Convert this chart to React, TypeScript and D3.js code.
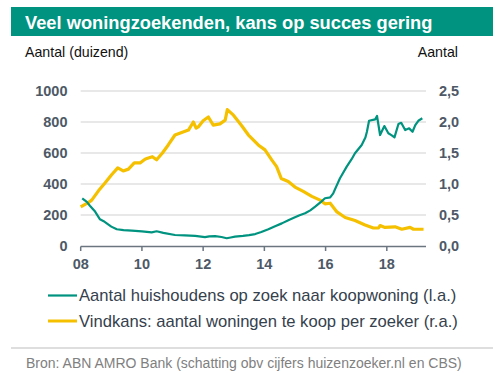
import React from "react";
import * as d3 from "d3";

const W = 503;
const H = 378;

const titleText = "Veel woningzoekenden, kans op succes gering";
const leftAxisTitle = "Aantal (duizend)";
const rightAxisTitle = "Aantal";
const sourceText = "Bron: ABN AMRO Bank (schatting obv cijfers huizenzoeker.nl en CBS)";
const seriesNames = [
  "Aantal huishoudens op zoek naar koopwoning (l.a.)",
  "Vindkans: aantal woningen te koop per zoeker (r.a.)",
];

const xTicks = [2008, 2010, 2012, 2014, 2016, 2018];
const xTickLabels = ["08", "10", "12", "14", "16", "18"];
const leftTicks = [0, 200, 400, 600, 800, 1000];
const rightTicks = [0, 0.5, 1, 1.5, 2, 2.5];

const searchersDates = [
  2008.05, 2008.2, 2008.3, 2008.47, 2008.63, 2008.75, 2008.85, 2009.0, 2009.18, 2009.4,
  2009.67, 2010.0, 2010.32, 2010.48, 2010.7, 2011.08, 2011.4, 2011.74, 2012.06, 2012.2,
  2012.39, 2012.6, 2012.77, 2012.9, 2013.04, 2013.3, 2013.5, 2013.7, 2013.9, 2014.13,
  2014.35, 2014.57, 2014.8, 2015.0, 2015.15, 2015.33, 2015.5, 2015.66, 2015.85, 2015.98,
  2016.1, 2016.15, 2016.25, 2016.35, 2016.47, 2016.69, 2016.85, 2016.96, 2017.18, 2017.3,
  2017.35, 2017.42, 2017.62, 2017.68, 2017.78, 2017.92, 2018.05, 2018.15, 2018.25, 2018.38,
  2018.47, 2018.6, 2018.73, 2018.84, 2018.93, 2019.03, 2019.16,
];
const searchersValues = [
  308, 285, 260, 222, 172, 160, 146, 125, 108, 102,
  99, 94, 88, 95, 85, 71, 68, 65, 57, 62,
  64, 58, 50, 55, 60, 65, 70, 77, 90, 108,
  128, 146, 168, 185, 198, 211, 230, 254, 285, 308,
  312, 314, 340, 385, 437, 512, 560, 598, 652, 700,
  737, 808, 817, 839, 716, 774, 727, 715, 701, 787,
  795, 748, 759, 737, 780, 808, 824,
];

const chanceDates = [
  2008.0, 2008.1, 2008.25, 2008.36, 2008.58, 2008.8, 2009.01, 2009.21, 2009.39, 2009.56,
  2009.75, 2009.94, 2010.1, 2010.16, 2010.34, 2010.48, 2010.67, 2010.86, 2011.08, 2011.3,
  2011.52, 2011.68, 2011.77, 2011.84, 2012.0, 2012.17, 2012.33, 2012.55, 2012.72, 2012.79,
  2012.99, 2013.26, 2013.48, 2013.8, 2014.02, 2014.24, 2014.4, 2014.55, 2014.78, 2015.0,
  2015.27, 2015.55, 2015.82, 2015.98, 2016.15, 2016.37, 2016.64, 2016.96, 2017.29, 2017.56,
  2017.73, 2017.78, 2017.94, 2018.27, 2018.49, 2018.76, 2018.87, 2019.2,
];
const chanceValues = [
  0.63, 0.66, 0.7, 0.74, 0.89, 1.02, 1.15, 1.26, 1.21, 1.24,
  1.34, 1.34, 1.4, 1.41, 1.44, 1.39, 1.5, 1.63, 1.79, 1.83,
  1.87, 2.0, 1.9, 1.92, 2.02, 2.08, 1.95, 1.97, 2.03, 2.2,
  2.11, 1.94, 1.79, 1.63, 1.55, 1.39, 1.28, 1.09, 1.04, 0.95,
  0.88, 0.8, 0.74, 0.68, 0.69, 0.55, 0.46, 0.41, 0.34, 0.29,
  0.29, 0.33, 0.3, 0.31, 0.27, 0.3, 0.27, 0.27,
];

const TEAL = "#00937f";
const YELLOW = "#f5c000";
const TICK_COLOR = "#4d5966";
const FONT = "'Liberation Sans', Arial, sans-serif";

export default function App() {
  const x = d3.scaleLinear().domain([2008, 2019.28]).range([80.7, 426]);
  const yL = d3.scaleLinear().domain([0, 1000]).range([246, 91]);
  const yR = d3.scaleLinear().domain([0, 2.5]).range([246, 91]);

  const searchers = searchersDates.map((d, i) => [d, searchersValues[i]] as [number, number]);
  const chance = chanceDates.map((d, i) => [d, chanceValues[i]] as [number, number]);

  const lineL = d3.line<[number, number]>().x((d) => x(d[0])).y((d) => yL(d[1]));
  const lineR = d3.line<[number, number]>().x((d) => x(d[0])).y((d) => yR(d[1]));

  return (
    <svg
      width={W}
      height={H}
      style={{ position: "absolute", left: 0, top: 0, background: "#fff" }}
      fontFamily={FONT}
    >
      <rect x={0} y={0} width={W} height={H} fill="#fff" />
      {/* title bar */}
      <rect x={11} y={7} width={482} height={29} fill={TEAL} />
      <text x={25} y={29} fill="#fff" fontSize={18.3} fontWeight="bold">
        {titleText}
      </text>
      <text x={25} y={56.5} fill="#111" fontSize={14.2}>
        {leftAxisTitle}
      </text>
      <text x={458} y={56.5} fill="#111" fontSize={14.2} textAnchor="end">
        {rightAxisTitle}
      </text>

      {/* grid */}
      {leftTicks
        .filter((t) => t > 0)
        .map((t) => (
          <line key={t} x1={80.7} x2={426} y1={yL(t)} y2={yL(t)} stroke="#e1e1e1" strokeWidth={1.5} />
        ))}

      {/* left ticks */}
      {leftTicks.map((t) => (
        <text
          key={t}
          x={67.5}
          y={yL(t) + 5}
          fontSize={14.5}
          fontWeight="bold"
          fill={TICK_COLOR}
          textAnchor="end"
        >
          {t}
        </text>
      ))}
      {/* right ticks */}
      {rightTicks.map((t) => (
        <text key={t} x={439} y={yR(t) + 5} fontSize={14.5} fontWeight="bold" fill={TICK_COLOR}>
          {t.toFixed(1).replace(".", ",")}
        </text>
      ))}

      {/* x axis */}
      <line x1={80.7} x2={426} y1={246.5} y2={246.5} stroke="#6b7580" strokeWidth={1.5} />
      {xTicks.map((t, i) => (
        <g key={t}>
          <line x1={x(t)} x2={x(t)} y1={246.5} y2={251} stroke="#6b7580" strokeWidth={1.5} />
          <text x={x(t)} y={269} fontSize={14.5} fontWeight="bold" fill={TICK_COLOR} textAnchor="middle">
            {xTickLabels[i]}
          </text>
        </g>
      ))}

      {/* lines */}
      <path d={lineR(chance) || ""} fill="none" stroke={YELLOW} strokeWidth={3.2} strokeLinejoin="round" />
      <path d={lineL(searchers) || ""} fill="none" stroke={TEAL} strokeWidth={2.2} strokeLinejoin="round" />

      {/* legend */}
      <line x1={48} x2={77} y1={295.5} y2={295.5} stroke={TEAL} strokeWidth={2.2} />
      <text x={79} y={301} fontSize={16.6} fill="#35414d">
        {seriesNames[0]}
      </text>
      <line x1={48} x2={77} y1={321} y2={321} stroke={YELLOW} strokeWidth={3} />
      <text x={79} y={327} fontSize={16.6} fill="#35414d">
        {seriesNames[1]}
      </text>

      {/* footer */}
      <line x1={11} x2={493} y1={348} y2={348} stroke="#bdbdbd" strokeWidth={1} />
      <text x={26} y={367.5} fontSize={14} fill="#808080">
        {sourceText}
      </text>
    </svg>
  );
}
